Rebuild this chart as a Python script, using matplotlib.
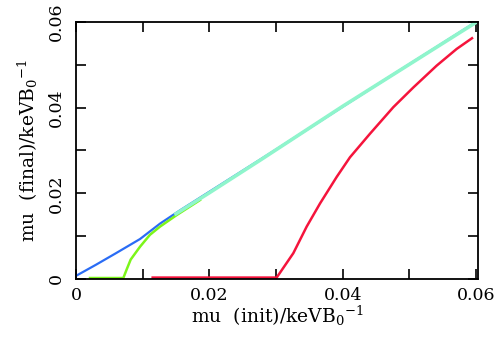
import numpy as np
import matplotlib.pyplot as plt
from matplotlib.ticker import MultipleLocator

# mu(init) -> mu(final) za cetiri slucaja
blue_x = [0.0, 0.003, 0.006, 0.0096, 0.0126, 0.0156, 0.03, 0.045, 0.06]
blue_y = [0.0007, 0.0033, 0.0060, 0.0093, 0.0129, 0.0160, 0.0302, 0.0452, 0.0600]

green_x = [0.0021, 0.0071, 0.0076, 0.0082, 0.0089, 0.0096, 0.0104, 0.0111, 0.0126, 0.0151, 0.0186]
green_y = [0.0002, 0.0002, 0.0022, 0.0045, 0.0060, 0.0075, 0.0090, 0.0103, 0.0122, 0.0149, 0.0184]

cyan_x = [0.0150, 0.020, 0.0276, 0.040, 0.050, 0.060]
cyan_y = [0.0152, 0.0201, 0.0277, 0.0403, 0.0501, 0.0599]

red_x = [0.0115, 0.0301, 0.0326, 0.0346, 0.0366, 0.0391, 0.0411, 0.0441,
         0.0476, 0.0506, 0.0541, 0.0571, 0.0594]
red_y = [0.0003, 0.0003, 0.0060, 0.0122, 0.0176, 0.0238, 0.0284, 0.0339,
         0.0401, 0.0447, 0.0498, 0.0537, 0.0562]

xticks = [0, 0.02, 0.04, 0.06]
xtick_labels = ['0', '0.02', '0.04', '0.06']
yticks = [0, 0.02, 0.04, 0.06]
ytick_labels = ['0', '0.02', '0.04', '0.06']

plt.rcParams['font.family'] = ['DejaVu Serif']
plt.rcParams['mathtext.fontset'] = 'dejavuserif'

fig = plt.figure(figsize=(5, 3.43), dpi=100)
ax = fig.add_axes([0.152, 0.187, 0.804, 0.749])

ax.plot(blue_x, blue_y, color='#2a6cf5', lw=1.6)
ax.plot(green_x, green_y, color='#7cf51a', lw=1.8)
ax.plot(cyan_x, cyan_y, color='#8ff5cc', lw=2.6)
ax.plot(red_x, red_y, color='#f5143c', lw=1.8)

ax.set_xlim(0, 0.0603)
ax.set_ylim(0, 0.06)
ax.set_xticks(xticks)
ax.set_xticklabels(xtick_labels)
ax.set_yticks(yticks)
ax.set_yticklabels(ytick_labels, rotation=90, va='center')
ax.xaxis.set_minor_locator(MultipleLocator(0.01))
ax.yaxis.set_minor_locator(MultipleLocator(0.01))
ax.tick_params(which='both', direction='in', top=True, right=True,
               length=7, width=1.2, labelsize=12.5, pad=6)
ax.tick_params(axis='y', pad=8)
for s in ax.spines.values():
    s.set_linewidth(1.3)

ax.set_xlabel(r'mu  (init)/keVB$_0$$^{-1}$', fontsize=13.5, labelpad=0)
ax.set_ylabel(r'mu  (final)/keVB$_0$$^{-1}$', fontsize=13.5, labelpad=6)

fig.savefig('out.png', dpi=100)
